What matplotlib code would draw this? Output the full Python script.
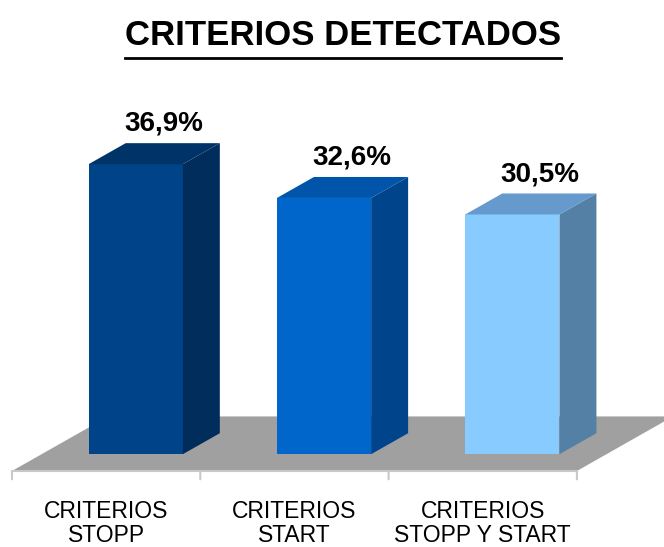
import matplotlib
matplotlib.use("Agg")
import matplotlib.pyplot as plt
from matplotlib.lines import Line2D

# data
categories = ["CRITERIOS\nSTOPP", "CRITERIOS\nSTART", "CRITERIOS\nSTOPP Y START"]
values = [36.9, 32.6, 30.5]
value_labels = ["36,9%", "32,6%", "30,5%"]
title = "CRITERIOS DETECTADOS"

# colours per bar: front, side, top
front_colors = ["#004388", "#0066CC", "#87CBFF"]
side_colors = ["#002D5C", "#00448C", "#5580A5"]
top_colors = ["#003468", "#0055AA", "#6699CC"]

# oblique "3d" projection: one depth unit moves right and up
DX = 0.1965
DY = 2.67
BAR_W = 0.5
D_FRONT = 0.8   # bar front depth
D_BACK = 1.8    # bar back depth
D_FLOOR = 2.6   # floor back depth


def proj(x, z, d):
    return x + d * DX, z + d * DY


def quad(ax, pts, color):
    xs = [p[0] for p in pts]
    ys = [p[1] for p in pts]
    ax.fill(xs, ys, color=color, linewidth=0)


fig = plt.figure(figsize=(6.64, 5.47), dpi=100)
ax = fig.add_axes([0, 0, 1, 1])
ax.set_xlim(-0.5637, 2.9626)
ax.set_ylim(-9.67, 59.92)
ax.axis("off")

n = len(values)
x0, x1 = -0.5, n - 0.5

# grey floor
quad(ax, [proj(x0, 0, 0), proj(x1, 0, 0), proj(x1, 0, D_FLOOR), proj(x0, 0, D_FLOOR)], "#A0A0A0")

# category axis line and ticks
ax.plot([x0, x1], [0, 0], color="#C8C8C8", lw=1.5, solid_capstyle="butt")
for i in range(n + 1):
    ax.annotate("", xy=(x0 + i, 0), xytext=(0, -6), textcoords="offset points",
                arrowprops=dict(arrowstyle="-", color="#C8C8C8", lw=1.5,
                                shrinkA=0, shrinkB=0))

for i, v in enumerate(values):
    l, r = i - BAR_W / 2, i + BAR_W / 2
    # front
    quad(ax, [proj(l, 0, D_FRONT), proj(r, 0, D_FRONT), proj(r, v, D_FRONT), proj(l, v, D_FRONT)],
         front_colors[i])
    # side
    quad(ax, [proj(r, 0, D_FRONT), proj(r, 0, D_BACK), proj(r, v, D_BACK), proj(r, v, D_FRONT)],
         side_colors[i])
    # top
    quad(ax, [proj(l, v, D_FRONT), proj(r, v, D_FRONT), proj(r, v, D_BACK), proj(l, v, D_BACK)],
         top_colors[i])
    # value label
    ax.annotate(value_labels[i], xy=proj(i, v, D_FRONT), xytext=(20, 29),
                textcoords="offset points", ha="center", va="center",
                fontsize=20, fontweight="bold", family="Liberation Sans")
    # category label
    ax.annotate(categories[i], xy=(i, 0), xytext=(0, -38), textcoords="offset points",
                ha="center", va="center", fontsize=16.5, family="Liberation Sans",
                linespacing=1.08)

t = fig.text(0.517, 0.9177, title, ha="center", va="baseline", fontsize=25,
             fontweight="bold", family="Liberation Sans")

# underline the title
fig.canvas.draw()
bb = t.get_window_extent(fig.canvas.get_renderer())
W, H = fig.bbox.width, fig.bbox.height
uy = (bb.y0 - 6) / H
fig.add_artist(Line2D([bb.x0 / W, bb.x1 / W], [uy, uy], color="black", lw=2,
                      transform=fig.transFigure))

fig.savefig("out.png", dpi=100)
